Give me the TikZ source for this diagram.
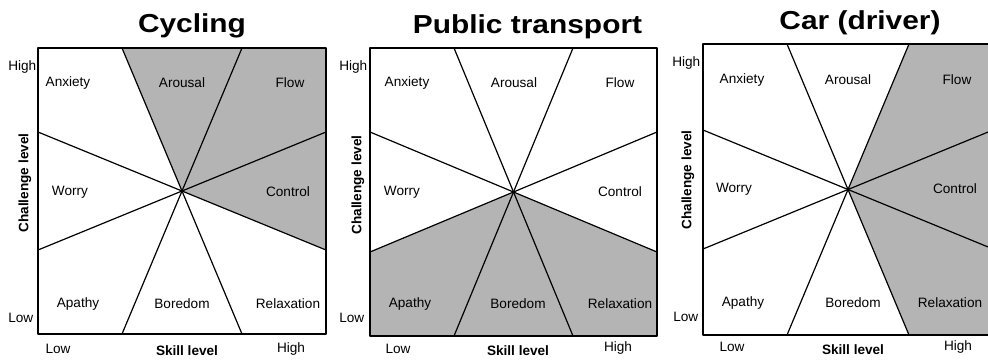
\documentclass[tikz,border=0pt]{standalone}
\usepackage{fontspec}
\setmainfont{Liberation Sans}
\definecolor{zonegray}{RGB}{180,180,180}

\begin{document}
\begin{tikzpicture}[line cap=round,line join=round,x=0.75pt,y=-0.75pt,
    zone/.style={fill=zonegray},
    ray/.style={line width=0.9pt},
    frame/.style={line width=1.5pt},
    lab/.style={font=\fontsize{10.2}{12}\selectfont},
    axis/.style={font=\fontsize{10.2}{12}\selectfont\bfseries},
    ttl/.style={font=\fontsize{19.5}{23}\selectfont\bfseries,xscale=1.15,anchor=base}]
    \clip (0,0) rectangle (988,362);
    % Cycling
    \fill [zone] (182,191) -- (122,48) -- (326,48) -- (326,250) -- cycle;
    \draw [ray] (122,48) -- (242,334);
    \draw [ray] (242,48) -- (122,334);
    \draw [ray] (38,132) -- (326,250);
    \draw [ray] (38,250) -- (326,132);
    \draw [frame] (38,48) rectangle (326,334);
    \node [ttl] (cyc-title) at (192,32) {Cycling};
    \node [lab] (cyc-anx) at (68,83) {Anxiety};
    \node [lab] (cyc-aro) at (182,83) {Arousal};
    \node [lab] (cyc-flow) at (290,83) {Flow};
    \node [lab] (cyc-wor) at (70,192) {Worry};
    \node [lab] (cyc-con) at (288,192) {Control};
    \node [lab] (cyc-apa) at (78,304) {Apathy};
    \node [lab] (cyc-bor) at (182,304) {Boredom};
    \node [lab] (cyc-rel) at (288,304) {Relaxation};
    \node [lab,anchor=west,inner sep=0pt] (cyc-yhi) at (8,67) {High};
    \node [lab,anchor=west,inner sep=0pt] (cyc-ylo) at (8,318) {Low};
    \node [axis,rotate=90] (cyc-ylab) at (25,183) {Challenge level};
    \node [lab] (cyc-xlo) at (58,349) {Low};
    \node [axis] (cyc-xlab) at (187,351) {Skill level};
    \node [lab] (cyc-xhi) at (291,349) {High};
    % Public transport
    \fill [zone] (513.5,192) -- (370,252) -- (370,336) -- (657,336) -- (657,252) -- cycle;
    \draw [ray] (454,48) -- (573,336);
    \draw [ray] (573,48) -- (454,336);
    \draw [ray] (370,132) -- (657,252);
    \draw [ray] (370,252) -- (657,132);
    \draw [frame] (370,48) rectangle (657,336);
    \node [ttl] (pub-title) at (527.5,33) {Public transport};
    \node [lab] (pub-anx) at (407,83) {Anxiety};
    \node [lab] (pub-aro) at (514,83) {Arousal};
    \node [lab] (pub-flow) at (620,83) {Flow};
    \node [lab] (pub-wor) at (402,192) {Worry};
    \node [lab] (pub-con) at (620,192) {Control};
    \node [lab] (pub-apa) at (410,304) {Apathy};
    \node [lab] (pub-bor) at (518,304) {Boredom};
    \node [lab] (pub-rel) at (620,304) {Relaxation};
    \node [lab,anchor=west,inner sep=0pt] (pub-yhi) at (339,67) {High};
    \node [lab,anchor=west,inner sep=0pt] (pub-ylo) at (339,318) {Low};
    \node [axis,rotate=90] (pub-ylab) at (358,185) {Challenge level};
    \node [lab] (pub-xlo) at (398,349) {Low};
    \node [axis] (pub-xlab) at (518,351) {Skill level};
    \node [lab] (pub-xhi) at (618,348) {High};
    % Car (driver)
    \fill [zone] (848,189.5) -- (909,44) -- (993,44) -- (993,335) -- (909,335) -- cycle;
    \draw [ray] (787,44) -- (909,335);
    \draw [ray] (909,44) -- (787,335);
    \draw [ray] (703,130) -- (993,249);
    \draw [ray] (703,249) -- (993,130);
    \draw [frame] (703,44) rectangle (993,335);
    \node [ttl] (car-title) at (860,29) {Car (driver)};
    \node [lab] (car-anx) at (742,80) {Anxiety};
    \node [lab] (car-aro) at (848,80) {Arousal};
    \node [lab] (car-flow) at (957,80) {Flow};
    \node [lab] (car-wor) at (734,189) {Worry};
    \node [lab] (car-con) at (955,189) {Control};
    \node [lab] (car-apa) at (743,303) {Apathy};
    \node [lab] (car-bor) at (853,303) {Boredom};
    \node [lab] (car-rel) at (950,303) {Relaxation};
    \node [lab,anchor=west,inner sep=0pt] (car-yhi) at (672,63) {High};
    \node [lab,anchor=west,inner sep=0pt] (car-ylo) at (673,317) {Low};
    \node [axis,rotate=90] (car-ylab) at (688,180) {Challenge level};
    \node [lab] (car-xlo) at (732,347) {Low};
    \node [axis] (car-xlab) at (853,350) {Skill level};
    \node [lab] (car-xhi) at (958,347) {High};
\end{tikzpicture}
\end{document}
